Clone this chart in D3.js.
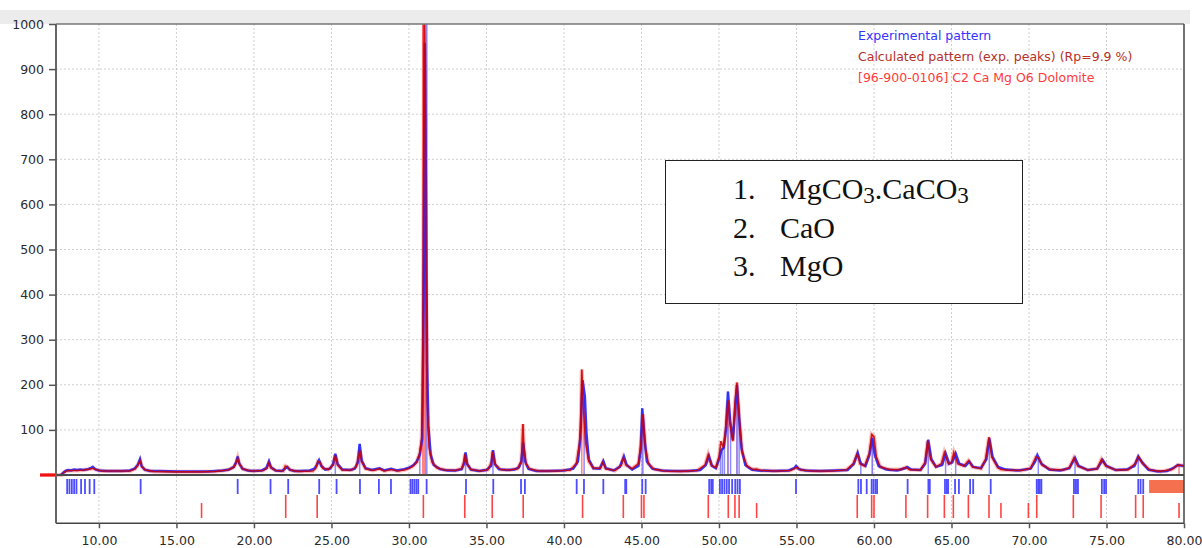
<!DOCTYPE html>
<html>
<head>
<meta charset="utf-8">
<script src="https://cdn.jsdelivr.net/npm/d3@7"></script>
<style>
  html, body { margin: 0; padding: 0; background: #fff; }
  svg { display: block; }
  .axis text { font-family: "DejaVu Sans", sans-serif; font-size: 12.5px; fill: #2a2a2a; }
  .axis path { display: none; }
  .axis line { stroke: #555; stroke-width: 1.5; }
</style>
</head>
<body>
<div id="chart"></div>
<script>
// ---- data ----
const xTicks = [10, 15, 20, 25, 30, 35, 40, 45, 50, 55, 60, 65, 70, 75, 80];
const yTicks = [100, 200, 300, 400, 500, 600, 700, 800, 900, 1000];

const legendLabels = [
  "Experimental pattern",
  "Calculated pattern (exp. peaks) (Rp=9.9 %)",
  "[96-900-0106] C2 Ca Mg O6 Dolomite"
];

const phaseLabels = [
  ["1.", "MgCO", "3", ".CaCO", "3"],
  ["2.", "CaO"],
  ["3.", "MgO"]
];

// experimental pattern [2theta, counts]
const expPattern = [
  [7.55,0],[7.7,5],[7.85,9],[8.0,11],[8.2,10],[8.4,12],[8.6,11],[8.8,12],[9.0,11],[9.3,13],[9.5,16],[9.6,18],[9.75,13],
  [10.0,10],[10.5,9],[11.0,9],[11.5,9],[12.0,10],[12.3,14],[12.5,22],[12.65,35],[12.75,20],[12.95,12],[13.3,9],[14,9],
  [15,8],[16,8],[16.6,8],[17,8],[17.5,9],[18.0,10],[18.4,12],[18.7,18],[18.85,28],[18.95,41],[19.05,26],[19.25,14],
  [19.6,10],[20.0,9],[20.5,10],[20.8,15],[20.97,30],[21.1,17],[21.4,10],[21.8,9],[22.0,14],[22.15,18],[22.3,12],
  [22.6,9],[23.0,9],[23.6,10],[23.9,14],[24.05,22],[24.2,33],[24.35,20],[24.6,12],[24.9,14],[25.1,24],[25.25,47],
  [25.4,24],[25.7,12],[26.2,11],[26.5,14],[26.7,28],[26.82,69],[26.95,32],[27.2,15],[27.6,11],[28.1,15],[28.4,10],
  [28.85,14],[29.2,10],[29.6,12],[30.0,16],[30.3,22],[30.5,30],[30.7,45],[30.85,80],[30.95,400],[31.02,958],
  [31.1,610],[31.17,248],[31.25,110],[31.4,45],[31.6,22],[32.0,13],[32.5,10],[33.0,10],[33.4,13],[33.55,25],
  [33.65,50],[33.75,25],[34.0,12],[34.5,9],[35.0,11],[35.3,20],[35.42,55],[35.55,24],[35.8,13],[36.3,11],[36.8,12],
  [37.1,17],[37.25,30],[37.37,72],[37.5,30],[37.7,14],[38.2,9],[39,9],[40,10],[40.6,14],[40.9,30],[41.05,80],
  [41.2,210],[41.35,174],[41.45,93],[41.6,35],[41.9,15],[42.3,14],[42.54,31],[42.7,15],[43.2,10],[43.6,18],
  [43.87,41],[44.05,22],[44.4,12],[44.8,20],[44.95,55],[45.05,148],[45.2,80],[45.35,30],[45.7,14],[46.3,10],[47,9],
  [48,9],[48.8,11],[49.15,22],[49.35,42],[49.55,20],[49.8,15],[50.05,40],[50.15,55],[50.3,60],[50.45,100],
  [50.58,185],[50.72,120],[50.9,78],[51.05,150],[51.16,200],[51.3,129],[51.45,60],[51.7,22],[52.1,12],[52.5,10],
  [53.5,9],[54.5,10],[54.85,15],[54.97,20],[55.15,13],[55.6,10],[56.5,9],[57.5,10],[58.3,11],[58.7,25],[58.95,49],
  [59.15,25],[59.45,20],[59.7,44],[59.89,82],[60.05,45],[60.3,20],[60.8,12],[61.5,10],[62.0,15],[62.15,18],[62.4,12],
  [63.0,11],[63.3,25],[63.5,78],[63.7,35],[64.0,18],[64.4,22],[64.62,48],[64.85,25],[65.05,28],[65.27,48],[65.5,25],
  [65.9,20],[66.15,30],[66.4,18],[66.9,15],[67.25,35],[67.44,81],[67.65,40],[68.0,18],[68.5,12],[69.3,10],[70.1,14],
  [70.4,30],[70.54,44],[70.8,25],[71.3,12],[72.0,10],[72.6,15],[72.97,38],[73.2,20],[73.8,11],[74.4,14],[74.75,33],
  [75.0,20],[75.6,11],[76.3,12],[76.8,20],[77.05,41],[77.3,28],[77.7,12],[78.3,8],[78.9,9],[79.3,15],[79.6,22],[80.0,20]
];

// calculated pattern [2theta, counts]
const calcPattern = [
  [6.2,0],[7.6,0],[7.75,6],[7.9,9],[8.2,10],[8.6,10],[9.0,11],[9.4,13],[9.6,15],[9.8,12],[10.2,9],[11,9],[12,9],
  [12.35,14],[12.55,24],[12.65,32],[12.78,18],[13.0,11],[13.5,8],[15,7],[16.5,7],[17.5,8],[18.3,11],[18.7,17],
  [18.88,30],[18.95,38],[19.05,25],[19.3,13],[19.8,9],[20.6,10],[20.85,16],[20.97,27],[21.1,16],[21.4,10],[21.9,9],
  [22.02,20],[22.15,18],[22.35,11],[22.8,8],[23.8,9],[24.0,16],[24.12,30],[24.25,28],[24.45,15],[24.8,12],[25.1,22],
  [25.25,44],[25.4,22],[25.7,11],[26.3,11],[26.6,18],[26.75,40],[26.82,55],[26.95,30],[27.2,14],[27.7,10],[28.1,14],
  [28.4,9],[28.85,12],[29.3,9],[29.8,12],[30.2,18],[30.5,28],[30.7,50],[30.82,82],[30.87,160],[30.93,470],[30.98,1000],
  [31.05,905],[31.1,470],[31.18,160],[31.3,60],[31.5,28],[31.8,16],[32.3,11],[33.0,10],[33.4,14],[33.55,30],
  [33.62,47],[33.75,24],[34.0,12],[34.6,9],[35.1,12],[35.32,28],[35.4,52],[35.55,24],[35.9,12],[36.5,11],[37.0,14],
  [37.25,30],[37.35,113],[37.42,60],[37.55,25],[37.8,13],[38.4,9],[39.5,9],[40.4,11],[40.8,25],[41.0,70],[41.07,104],
  [41.15,234],[41.25,150],[41.4,70],[41.6,30],[41.9,15],[42.35,15],[42.5,28],[42.7,14],[43.3,10],[43.7,22],[43.83,38],
  [44.0,22],[44.4,14],[44.8,25],[44.95,66],[45.02,100],[45.1,135],[45.25,60],[45.45,25],[45.8,13],[46.5,9],[47.5,8],
  [48.6,10],[49.1,22],[49.3,45],[49.5,22],[49.8,16],[50.0,40],[50.13,75],[50.3,60],[50.45,110],[50.58,166],
  [50.72,110],[50.9,75],[51.03,160],[51.16,205],[51.32,120],[51.5,50],[51.8,20],[52.2,12],[52.43,13],[52.7,10],
  [53.8,9],[54.6,10],[54.9,15],[55.05,17],[55.3,11],[56,9],[57.2,9],[58.2,11],[58.65,24],[58.92,47],[59.1,25],
  [59.4,20],[59.7,48],[59.85,90],[60.0,85],[60.15,40],[60.4,18],[61.0,12],[61.7,12],[62.06,17],[62.3,12],[63.0,11],
  [63.3,28],[63.46,76],[63.65,35],[64.0,18],[64.35,25],[64.54,50],[64.8,25],[65.0,28],[65.15,50],[65.4,25],[65.8,20],
  [66.1,32],[66.35,18],[66.9,14],[67.2,35],[67.42,84],[67.6,40],[68.0,16],[68.19,12],[68.6,11],[69.5,10],[70.1,15],
  [70.45,40],[70.6,38],[70.85,22],[71.4,12],[72.2,11],[72.6,16],[72.9,38],[73.15,20],[73.8,11],[74.4,14],[74.68,35],
  [74.95,20],[75.6,11],[76.4,12],[76.85,25],[77.05,40],[77.35,25],[77.8,11],[78.5,8],[79.2,12],[79.6,22],[79.68,22],[80.0,20]
];

// sticks drawn from zero up to the peak top
const expSticks = [
  [31.12,1000],[41.3,174],[45.05,148],[50.1,55],[50.22,60],[50.35,75],[50.58,185],[50.75,100],[51.16,200],
  [51.3,129],[59.15,30],[59.89,82],[63.5,78],[67.44,81],[64.62,48],[65.27,48],[70.6,40],[72.97,38],[77.05,41],
  [26.82,69],[25.25,47],[37.37,72],[33.65,50],[35.42,55],[30.7,45]
];
const calcSticks = [[30.95,1000],[37.37,113],[41.15,234],[45.1,135],[50.58,166],[51.16,205],[59.9,90],[79.68,22]];

// phase marker rows below the zero line
const expPeakPos = [
  7.95,8.1,8.25,8.4,8.55,8.85,9.1,9.4,9.7,12.69,18.95,21.07,22.21,24.21,25.33,26.84,28.06,28.84,
  30.1,30.22,30.35,30.48,30.6,31.14,33.68,35.44,37.23,37.48,40.82,41.29,42.54,43.95,44.02,45.05,45.27,
  49.37,49.5,49.6,50.06,50.2,50.35,50.5,50.65,50.85,51.05,51.2,51.35,54.97,
  58.99,59.16,59.53,59.85,59.97,60.1,60.2,62.17,63.51,63.6,64.58,64.7,64.78,65.23,65.48,66.2,66.4,67.53,
  70.5,70.6,70.7,70.8,72.9,73.0,73.1,73.16,74.7,74.85,74.97,77.05,77.2,77.37
];
const excludedRange = [77.75, 80];
// [2theta, relative height]
const refPeakPos = [
  [16.62,0.65],[22.05,1],[24.08,1],[30.93,1],[33.6,1],[35.37,1],[37.37,1],[41.2,1],[43.83,1],[45.0,1],[45.16,1],
  [49.31,1],[50.6,1],[51.03,1],[51.3,1],[52.43,0.65],[58.92,1],[59.85,1],[60.0,1],[62.06,1],[63.46,1],[64.54,1],
  [65.12,1],[66.09,1],[67.42,1],[68.19,0.65],[69.96,0.65],[70.5,1],[72.86,1],[74.65,1],[76.88,1],[77.37,1],[79.68,0.65]
];

// ---- layout ----
const width = 1202, height = 548;
const left = 56, right = 1184;

const x = d3.scaleLinear().domain([7.23, 80]).range([left, right]);
const y = d3.scaleLinear().domain([0, 1000]).range([475, 24]);
const yBottom = -107;
const plotTop = y(1000), plotBottom = y(yBottom);

const svg = d3.select("#chart").append("svg")
  .attr("width", width).attr("height", height);

// title strip of the window
svg.append("rect").attr("x", 0).attr("y", 10).attr("width", 1190).attr("height", plotTop - 10)
  .attr("fill", "#ececec");

svg.append("rect").attr("x", left).attr("y", plotTop).attr("width", right - left).attr("height", plotBottom - plotTop)
  .attr("fill", "#fff");

// grid
svg.append("g").selectAll("line").data(yTicks.filter(d => d < 1000)).join("line")
  .attr("x1", left).attr("x2", right).attr("y1", d => y(d)).attr("y2", d => y(d))
  .attr("stroke", "#cfcfcf").attr("stroke-dasharray", "2,2");
svg.append("g").selectAll("line").data(xTicks.filter(d => d < 80)).join("line")
  .attr("x1", d => x(d)).attr("x2", d => x(d)).attr("y1", plotTop).attr("y2", plotBottom)
  .attr("stroke", "#cfcfcf").attr("stroke-dasharray", "2,2");

svg.append("defs").append("clipPath").attr("id", "plotClip")
  .append("rect").attr("x", 30).attr("y", plotTop).attr("width", right - 30).attr("height", plotBottom - plotTop);

const plot = svg.append("g").attr("clip-path", "url(#plotClip)");

// sticks
plot.append("g").selectAll("line").data(calcSticks).join("line")
  .attr("x1", d => x(d[0])).attr("x2", d => x(d[0])).attr("y1", y(0)).attr("y2", d => y(d[1]))
  .attr("stroke", "#ff7070").attr("stroke-width", d => d[1] >= 1000 ? 3.5 : 1.5).attr("opacity", 0.85);
plot.append("g").selectAll("line").data(expSticks).join("line")
  .attr("x1", d => x(d[0])).attr("x2", d => x(d[0])).attr("y1", y(0)).attr("y2", d => y(d[1]))
  .attr("stroke", "#7a7aff").attr("stroke-width", d => d[1] >= 1000 ? 2.5 : 1.5).attr("opacity", 0.85);

const line = d3.line().x(d => x(d[0])).y(d => y(d[1]));

plot.append("path").datum(calcPattern).attr("d", line)
  .attr("fill", "none").attr("stroke", "#ff2020").attr("stroke-width", 4).attr("opacity", 0.3);
plot.append("path").datum(expPattern).attr("d", line)
  .attr("fill", "none").attr("stroke", "#2222ff").attr("stroke-width", 2.5).attr("opacity", 0.9);
plot.append("path").datum(calcPattern).attr("d", line)
  .attr("fill", "none").attr("stroke", "#cc0000").attr("stroke-width", 1.6).attr("opacity", 0.85);

// zero line
svg.append("line").attr("x1", left).attr("x2", right).attr("y1", y(0)).attr("y2", y(0))
  .attr("stroke", "#4a4a4a").attr("stroke-width", 2);
svg.append("line").attr("x1", x(6.2)).attr("x2", left).attr("y1", y(0)).attr("y2", y(0))
  .attr("stroke", "#ee1111").attr("stroke-width", 3);

// marker rows
svg.append("g").selectAll("line").data(expPeakPos).join("line")
  .attr("x1", d => x(d)).attr("x2", d => x(d)).attr("y1", 479).attr("y2", 494)
  .attr("stroke", "#4d4dff").attr("stroke-width", 1.8);
svg.append("rect")
  .attr("x", x(excludedRange[0])).attr("y", 480)
  .attr("width", x(excludedRange[1]) - x(excludedRange[0])).attr("height", 13)
  .attr("fill", "#f4704e");
svg.append("g").selectAll("line").data(refPeakPos).join("line")
  .attr("x1", d => x(d[0])).attr("x2", d => x(d[0]))
  .attr("y1", d => 518 - 23 * d[1]).attr("y2", 518)
  .attr("stroke", "#ff4444").attr("stroke-width", 1.6);

// frame
svg.append("line").attr("x1", left).attr("x2", right).attr("y1", plotTop).attr("y2", plotTop)
  .attr("stroke", "#777").attr("stroke-width", 1.5);
svg.append("line").attr("x1", right).attr("x2", right).attr("y1", plotTop).attr("y2", plotBottom)
  .attr("stroke", "#444").attr("stroke-width", 1.5);
svg.append("line").attr("x1", left).attr("x2", right).attr("y1", plotBottom).attr("y2", plotBottom)
  .attr("stroke", "#444").attr("stroke-width", 1.5);
svg.append("line").attr("x1", left).attr("x2", left).attr("y1", plotTop).attr("y2", plotBottom)
  .attr("stroke", "#666").attr("stroke-width", 2);

// axes
svg.append("g").attr("class", "axis").attr("transform", `translate(${left},0)`)
  .call(d3.axisLeft(y).tickValues(yTicks).tickSize(7).tickPadding(5).tickFormat(d3.format("d")));
svg.append("g").attr("class", "axis").attr("transform", `translate(0,${plotBottom})`)
  .call(d3.axisBottom(x).tickValues(xTicks).tickSize(5).tickPadding(8).tickFormat(d3.format(".2f")));

// legend
const legendColors = ["#3333ff", "#b8302a", "#ff3b3b"];
svg.append("g").selectAll("text").data(legendLabels).join("text")
  .attr("x", 858).attr("y", (d, i) => 39.5 + i * 21)
  .attr("fill", (d, i) => legendColors[i])
  .style("font-family", "'DejaVu Sans', sans-serif").style("font-size", "12.5px")
  .text(d => d);

// phase box
const box = svg.append("g");
box.append("rect").attr("x", 665.5).attr("y", 160.5).attr("width", 357).attr("height", 143)
  .attr("fill", "#fff").attr("stroke", "#222").attr("stroke-width", 1);
phaseLabels.forEach((row, i) => {
  const by = 199 + i * 38.7;
  box.append("text").attr("x", 733).attr("y", by)
    .style("font-family", "'Liberation Serif', 'Times New Roman', serif").style("font-size", "30px")
    .attr("fill", "#111").text(row[0]);
  const t = box.append("text").attr("x", 780).attr("y", by)
    .style("font-family", "'Liberation Serif', 'Times New Roman', serif").style("font-size", "30px")
    .attr("fill", "#111");
  row.slice(1).forEach((part, j) => {
    const isSub = j % 2 === 1;
    t.append("tspan")
      .attr("dy", isSub ? 4 : (j > 0 ? -4 : 0))
      .style("font-size", isSub ? "23px" : "30px")
      .text(part);
  });
});
</script>
</body>
</html>
